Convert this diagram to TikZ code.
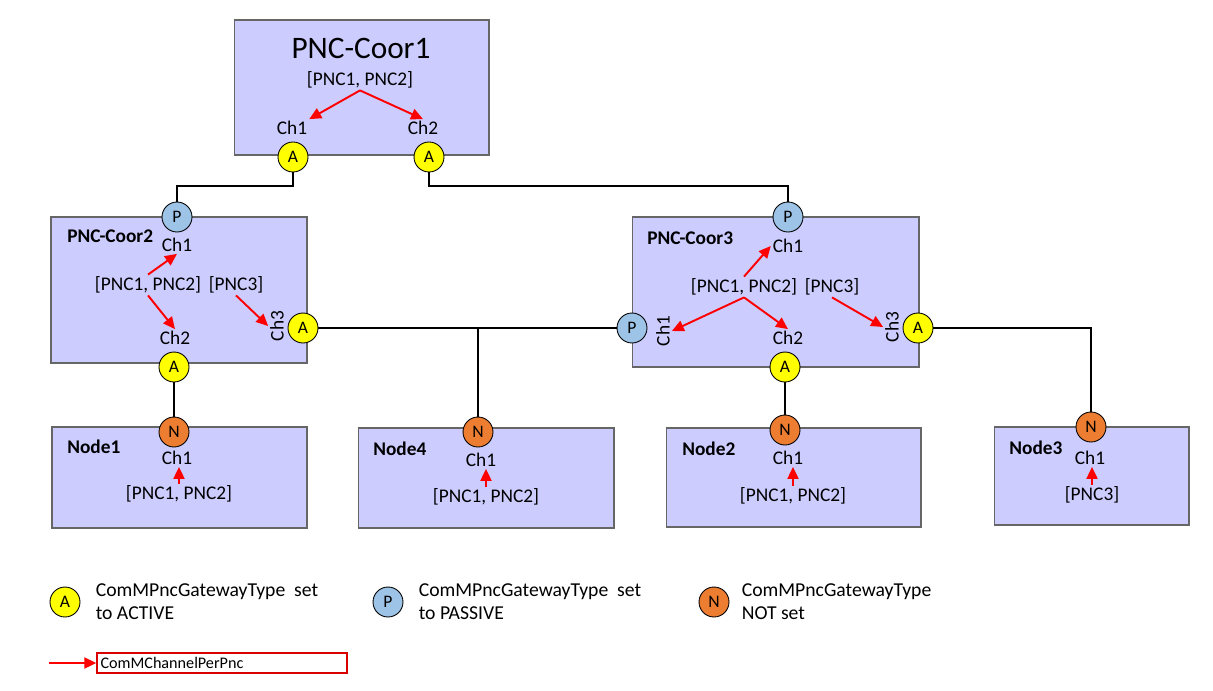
\documentclass[tikz,border=0pt]{standalone}
\usepackage{fontspec}
\setmainfont{Carlito}
\usepackage{tikz}
\usetikzlibrary{arrows.meta,positioning}

\definecolor{boxfill}{HTML}{CCCCFF}
\definecolor{gwactive}{HTML}{FFFF00}
\definecolor{gwpassive}{HTML}{9DC3E6}
\definecolor{gwnone}{HTML}{ED7D31}

\newcommand\pncbody{\fontsize{11}{13}\selectfont}
\newcommand\pnctitle{\fontsize{17.8}{21}\selectfont}
\newcommand\pnclegend{\fontsize{11.2}{13}\selectfont}
\newcommand\pncsmall{\fontsize{9.2}{11}\selectfont}
\newcommand\pncgw{\fontsize{10}{12}\selectfont}

\begin{document}
\begin{tikzpicture}[x=0.02cm, y=-0.02cm,
    box/.style={draw=black!60, fill=boxfill, line width=0.6pt, inner sep=0pt},
    gw/.style={circle, draw, line width=0.5pt, minimum size=0.6cm, inner sep=0pt, font=\pncgw},
    gwA/.style={gw, fill=gwactive},
    gwP/.style={gw, fill=gwpassive},
    gwN/.style={gw, fill=gwnone},
    lbl/.style={font=\pncbody, inner sep=1pt},
    boxname/.style={font=\pncbody\bfseries, inner sep=0pt, anchor=west},
    legtext/.style={font=\pnclegend, align=left, inner sep=0pt},
    link/.style={line width=1.1pt},
    pnc/.style={-{Triangle[length=2.4mm, width=2.2mm]}, red, line width=1.1pt}]
        \path[fill=white] (0,0) rectangle (1213,690);

        % boxes
        \node (C1) [box, minimum width=5.1cm, minimum height=2.7cm] at (361.5,87.5) {};
        \node (C2) [box, minimum width=5.12cm, minimum height=2.92cm] at (179,290) {};
        \node (C3) [box, minimum width=5.74cm, minimum height=3cm] at (775.5,292) {};
        \node (N1) [box, minimum width=5.1cm, minimum height=2.02cm] at (179.5,477.5) {};
        \node (N4) [box, minimum width=5.12cm, minimum height=2cm] at (486,478) {};
        \node (N2) [box, minimum width=5.1cm, minimum height=1.98cm] at (793.5,477.5) {};
        \node (N3) [box, minimum width=3.9cm, minimum height=1.96cm] at (1091.5,476) {};

        % texts
        \node (C1t) [font=\pnctitle, inner sep=0pt] at (361,48) {PNC-Coor1};
        \node (C1l) [lbl] at (360,80) {[PNC1, PNC2]};
        \node (C1ch1) [lbl] at (292,128) {Ch1};
        \node (C1ch2) [lbl] at (423,128) {Ch2};

        \node (C2t) [boxname] at (67,236) {PNC-Coor2};
        \node (C2l) [lbl] at (148,285) {[PNC1, PNC2]};
        \node (C2m) [lbl] at (236,285) {[PNC3]};
        \node (C2ch1) [lbl] at (177,245) {Ch1};
        \node (C2ch2) [lbl] at (175,338) {Ch2};
        \node (C2ch3) [lbl, rotate=90] at (277,326) {Ch3};

        \node (C3t) [boxname] at (647,238) {PNC-Coor3};
        \node (C3l) [lbl] at (744,287) {[PNC1, PNC2]};
        \node (C3m) [lbl] at (832,287) {[PNC3]};
        \node (C3ch1) [lbl] at (788,246) {Ch1};
        \node (C3chl) [lbl, rotate=90] at (663,331) {Ch1};
        \node (C3ch2) [lbl] at (788,338) {Ch2};
        \node (C3ch3) [lbl, rotate=90] at (892,327) {Ch3};

        \node (N1t) [boxname] at (67,447) {Node1};
        \node (N1ch) [lbl] at (177,458) {Ch1};
        \node (N1l) [lbl] at (179,494) {[PNC1, PNC2]};
        \node (N4t) [boxname] at (373,449) {Node4};
        \node (N4ch) [lbl] at (481,460) {Ch1};
        \node (N4l) [lbl] at (486,497) {[PNC1, PNC2]};
        \node (N2t) [boxname] at (682,449) {Node2};
        \node (N2ch) [lbl] at (788,458) {Ch1};
        \node (N2l) [lbl] at (793,496) {[PNC1, PNC2]};
        \node (N3t) [boxname] at (1009,448) {Node3};
        \node (N3ch) [lbl] at (1090,458) {Ch1};
        \node (N3l) [lbl] at (1092,495) {[PNC3]};

        % gateways
        \node (C1a) [gwA] at (293,157) {A};
        \node (C1b) [gwA] at (429,157) {A};
        \node (C2p) [gwP] at (177,217) {P};
        \node (C2b) [gwA] at (174,367) {A};
        \node (C2r) [gwA] at (303,328) {A};
        \node (C3p) [gwP] at (788,217) {P};
        \node (C3w) [gwP] at (632,328) {P};
        \node (C3b) [gwA] at (785,367) {A};
        \node (C3r) [gwA] at (918,328) {A};
        \node (N1g) [gwN] at (174,432) {N};
        \node (N4g) [gwN] at (478,432) {N};
        \node (N2g) [gwN] at (785,430) {N};
        \node (N3g) [gwN] at (1091,427) {N};

        \draw[link] (C1a.south) -- ++(0,14) -| (C2p);
        \draw[link] (C1b.south) -- ++(0,14) -| (C3p);
        \draw[link, line width=1.6pt] (C2r) -- (C3w);
        \draw[link] (N4g) -- (N4g |- C2r);
        \draw[link] (C3r) -| (N3g);
        \draw[link] (C2b) -- (N1g);
        \draw[link] (C3b) -- (N2g);

        \draw[pnc] (C1l.south) -- (C1ch1.north east);
        \draw[pnc] (C1l.south) -- (C1ch2.north);
        \draw[pnc] (C2l.north) -- (C2ch1.south);
        \draw[pnc] (C2l.south) -- (C2ch2.north);
        \draw[pnc] (C2m.south) -- (C2ch3.north);
        \draw[pnc] (C3l.north) -- (C3ch1.west);
        \draw[pnc] (C3l.south) -- (C3chl.south);
        \draw[pnc] (C3l.south) -- (C3ch2.north);
        \draw[pnc] (C3m.south) -- (C3ch3.north);
        \draw[pnc] (N1l.north) -- (N1l.north |- N1ch.south);
        \draw[pnc] (N4l.north) -- (N4l.north |- N4ch.south);
        \draw[pnc] (N2l.north) -- (N2l.north |- N2ch.south);
        \draw[pnc] (N3l.north) -- (N3l.north |- N3ch.south);

        % legend
        \node (LA) [gwA] at (65,602) {A};
        \node (LAt) [legtext, right=0.3cm of LA] {ComMPncGatewayType~ set\\to ACTIVE};
        \node (LP) [gwP] at (388,602) {P};
        \node (LPt) [legtext, right=0.3cm of LP] {ComMPncGatewayType~ set\\to PASSIVE};
        \node (LN) [gwN] at (714,602) {N};
        \node (LNt) [legtext, right=0.24cm of LN] {ComMPncGatewayType\\NOT set};

        \coordinate (LRtail) at (49,663);
        \node (LR) [draw=red!85!black, line width=0.8pt, minimum height=0.4cm, text width=4.86cm,
            inner xsep=0.07cm, inner ysep=0pt, align=left, font=\pncsmall] at (222,663) {ComMChannelPerPnc};
        \draw[pnc] (LRtail) -- (LR);
    \end{tikzpicture}
\end{document}
